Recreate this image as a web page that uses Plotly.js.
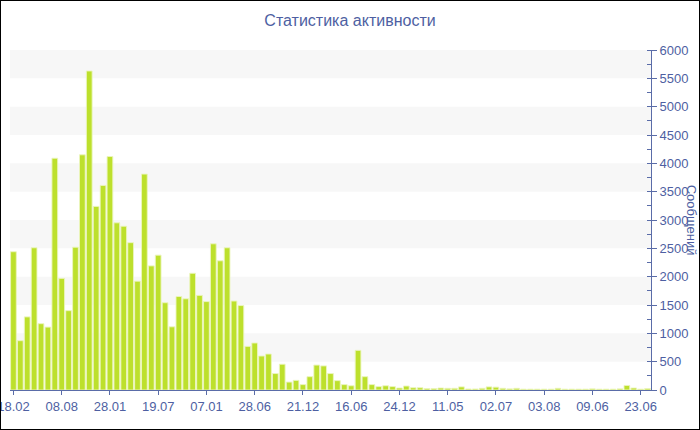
<!DOCTYPE html>
<html>
<head>
<meta charset="utf-8">
<script src="https://cdn.plot.ly/plotly-3.0.1.min.js"></script>
<style>
html,body{margin:0;padding:0;background:#fff;}
#chart{width:700px;height:430px;box-sizing:border-box;border:1px solid #000;}
</style>
</head>
<body>
<div id="chart"></div>
<script>
const chartTitle = "Статистика активности";
const yTitle = "Сообщений";
const messages = [
  2440, 870, 1290, 2510, 1170, 1110, 4090, 1970, 1400, 2520,
  4150, 5630, 3240, 3610, 4120, 2950, 2890, 2600, 1920, 3810,
  2190, 2380, 1540, 1115, 1650, 1610, 2060, 1670, 1560, 2580,
  2280, 2510, 1570, 1490, 770, 830, 600, 635, 290, 455,
  140, 170, 95, 235, 440, 425, 290, 165, 95, 75,
  700, 235, 95, 60, 75, 60, 35, 70, 40, 40,
  25, 25, 35, 30, 30, 55, 18, 18, 30, 55,
  50, 30, 20, 30, 15, 15, 15, 15, 15, 30,
  15, 15, 15, 15, 20, 15, 15, 15, 20, 80,
  35, 15, 25
];
const tickLabels = ["18.02","08.08","28.01","19.07","07.01","28.06","21.12","16.06","24.12","11.05","02.07","03.08","09.06","23.06"];
const tickStep = 7;

const idx = messages.map((_, i) => i);
const tickVals = tickLabels.map((_, i) => i * tickStep);

const axisColor = '#5a6ca8';
const textColor = '#4e5fa2';
const font = 'Liberation Sans, Arial, sans-serif';

const bands = [];
for (let v = 500; v < 6000; v += 1000) {
  bands.push({type:'rect', xref:'paper', yref:'y', x0:0, x1:1, y0:v, y1:v+500,
    fillcolor:'#f7f7f7', line:{width:0}, layer:'below'});
}

const trace = {
  type:'bar', x: idx, y: messages,
  marker:{color:'#bde02c', line:{color:'rgba(235,245,190,0.9)', width:1}},
  hoverinfo:'y'
};

const layout = {
  width:698, height:428,
  margin:{l:9, r:48, t:49, b:39},
  paper_bgcolor:'#fff', plot_bgcolor:'#fff',
  bargap:0.17,
  showlegend:false,
  title:{text:chartTitle, x:0.5, xanchor:'center', y:0.955, yanchor:'middle',
    font:{family:font, size:16, color:textColor}},
  xaxis:{range:[-0.5, messages.length-0.5], tickmode:'array', tickvals:tickVals, ticktext:tickLabels,
    showgrid:false, zeroline:false, showline:true, linecolor:axisColor, linewidth:1,
    ticks:'outside', ticklen:4, tickcolor:axisColor, ticklabeloverflow:'allow',
    tickfont:{family:font, size:13, color:textColor}, fixedrange:true},
  yaxis:{range:[0,6000], side:'right', dtick:500, showgrid:false, zeroline:false,
    showline:true, linecolor:axisColor, linewidth:1,
    ticks:'outside', ticklen:5, tickcolor:axisColor,
    minor:{dtick:250, ticks:'inside', ticklen:4, tickcolor:axisColor, showgrid:false},
    tickfont:{family:font, size:13, color:textColor}, fixedrange:true},
  shapes: bands,
  annotations:[{text:yTitle, textangle:90, xref:'paper', yref:'paper', x:1.0645, y:0.5,
    xanchor:'center', yanchor:'middle', showarrow:false,
    font:{family:font, size:13, color:textColor}}]
};

Plotly.newPlot('chart', [trace], layout, {displayModeBar:false, staticPlot:true});
</script>
</body>
</html>
